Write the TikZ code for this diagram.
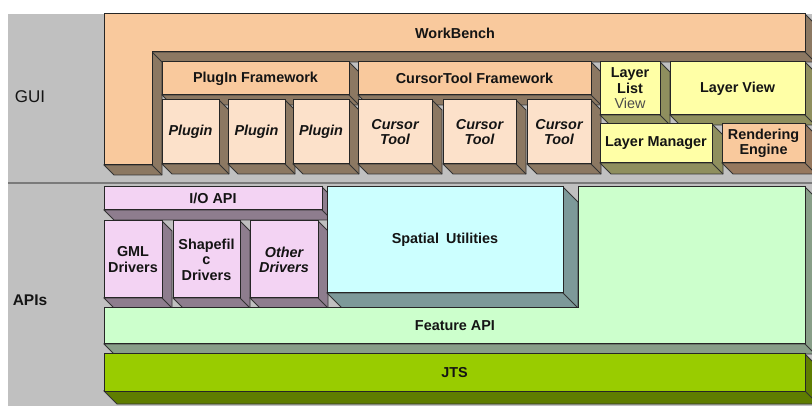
\documentclass[tikz,border=0pt]{standalone}
\usepackage{fontspec}
\setmainfont{Liberation Sans}
\usetikzlibrary{calc}
\pgfdeclarelayer{back}
\pgfdeclarelayer{bg}
\pgfsetlayers{back,bg,main}
\definecolor{bggray}{HTML}{C0C0C0}
\definecolor{divline}{HTML}{7A7A7A}
\definecolor{peach}{HTML}{F9C99D}
\definecolor{lpeach}{HTML}{FCE1CA}
\definecolor{brownside}{HTML}{8C7862}
\definecolor{lyellow}{HTML}{FFFFA6}
\definecolor{oliveside}{HTML}{8F8F5E}
\definecolor{rendside}{HTML}{96785E}
\definecolor{lpink}{HTML}{F3D3F3}
\definecolor{pinkside}{HTML}{8E7D8E}
\definecolor{lcyan}{HTML}{CCFFFF}
\definecolor{cyanside}{HTML}{7D9999}
\definecolor{lgreen}{HTML}{CCFFCC}
\definecolor{greenside}{HTML}{889E88}
\definecolor{jtsgreen}{HTML}{99CC00}
\definecolor{jtsside}{HTML}{5F7D00}
\definecolor{ink}{HTML}{141414}
\tikzset{
  bord/.style={draw=black!85, line width=1pt, line join=miter},
  face/.style={bord, inner sep=0pt, outer sep=0pt, anchor=north west, align=center, text=ink, font=\bfseries\fontsize{14.4}{15.5}\selectfont},
  it/.style={font=\bfseries\itshape\fontsize{14.4}{15}\selectfont},
  rim/.style={draw=black!80, line width=0.8pt, line join=miter},
  txt/.style={text=ink, inner sep=0pt},
}
\newcommand\boxat[6]{\node[face,#6,minimum width={#4-#2},minimum height={#5-#3}] (#1) at (#2,#3)}
\newcommand\extr[3]{%
  \begin{pgfonlayer}{bg}
  \filldraw[rim, fill=#2] (#1.north east) -- ($(#1.north east)+(#3,#3)$) -- ($(#1.south east)+(#3,#3)$) -- ($(#1.south west)+(#3,#3)$) -- (#1.south west) -- (#1.south east) -- cycle;
  \draw[rim] (#1.south east) -- ($(#1.south east)+(#3,#3)$);
  \end{pgfonlayer}}
\begin{document}
\begin{tikzpicture}[x=1pt,y=-1pt]
\useasboundingbox (0,0) rectangle (812,406);
\begin{pgfonlayer}{back}
\fill[white] (0,0) rectangle (812,406);
\fill[bggray] (8,14) rectangle (812,406);
\draw[divline, line width=1.5pt] (8,183) -- (812,183);
\end{pgfonlayer}
% layer labels
\node[txt, font=\fontsize{17}{17}\selectfont] (gui) at (30,97) {GUI};
\node[txt, font=\bfseries\fontsize{15.5}{16}\selectfont] (apis) at (30,300) {APIs};
% WorkBench (L shape)
\draw[bord, fill=peach] (104,14) -- (805,14) -- (805,52) -- (152,52) -- (152,165) -- (104,165) -- cycle;
\begin{pgfonlayer}{bg}
\filldraw[rim, fill=brownside] (805,14) -- (815,24) -- (815,62) -- (162,62) -- (162,175) -- (114,175) -- (104,165) -- (152,165) -- (152,52) -- (805,52) -- cycle;
\draw[rim] (805,52) -- (815,62) (152,52) -- (162,62) (152,165) -- (162,175);
\end{pgfonlayer}
\node[txt, font=\bfseries\fontsize{14.4}{15}\selectfont] (wb) at (455,33) {WorkBench};
% GUI boxes
\boxat{pf}{162}{62}{349}{95}{fill=peach}{PlugIn Framework};
\boxat{pg1}{162}{100}{219}{164}{fill=lpeach,it}{Plugin};
\boxat{pg2}{228}{100}{285}{164}{fill=lpeach,it}{Plugin};
\boxat{pg3}{293}{100}{349}{164}{fill=lpeach,it}{Plugin};
\boxat{cf}{358}{62}{591}{95}{fill=peach}{CursorTool Framework};
\boxat{ct1}{358}{100}{432}{164}{fill=lpeach,it}{Cursor\\Tool};
\boxat{ct2}{443}{100}{516}{164}{fill=lpeach,it}{Cursor\\Tool};
\boxat{ct3}{527}{100}{591}{164}{fill=lpeach,it}{Cursor\\Tool};
\boxat{llv}{600}{62}{660}{115}{fill=lyellow}{Layer\\List\\{\mdseries\color{black!70}View}};
\boxat{lv}{670}{62}{805}{115}{fill=lyellow}{Layer View};
\boxat{lm}{600}{124}{712}{163}{fill=lyellow}{Layer Manager};
\boxat{re}{722}{124}{805}{163}{fill=peach}{Rendering\\Engine};
\extr{pf}{brownside}{10}
\extr{pg1}{brownside}{10}
\extr{pg2}{brownside}{10}
\extr{pg3}{brownside}{10}
\extr{cf}{brownside}{10}
\extr{ct1}{brownside}{10}
\extr{ct2}{brownside}{10}
\extr{ct3}{brownside}{10}
\extr{llv}{oliveside}{10}
\extr{lv}{oliveside}{10}
\extr{lm}{oliveside}{11}
\extr{re}{rendside}{11}
% API boxes
\boxat{io}{104}{187}{322}{210}{fill=lpink}{I/O API};
\boxat{gml}{104}{221}{162}{298}{fill=lpink}{GML\\Drivers};
\boxat{shp}{173}{221}{240}{298}{fill=lpink}{Shapefil\\c\\Drivers};
\boxat{oth}{250}{221}{318}{298}{fill=lpink,it}{Other\\Drivers};
\boxat{su}{327}{187}{563}{293}{fill=lcyan}{Spatial\enspace Utilities};
\extr{io}{pinkside}{10}
\extr{gml}{pinkside}{10}
\extr{shp}{pinkside}{10}
\extr{oth}{pinkside}{10}
\extr{su}{cyanside}{15}
% Feature API (L shape)
\draw[bord, fill=lgreen] (104,308) -- (578,308) -- (578,187) -- (805,187) -- (805,344) -- (104,344) -- cycle;
\begin{pgfonlayer}{bg}
\filldraw[rim, fill=greenside] (805,187) -- (815,197) -- (815,354) -- (114,354) -- (104,344) -- (805,344) -- cycle;
\draw[rim] (805,344) -- (815,354);
\end{pgfonlayer}
\node[txt, font=\bfseries\fontsize{14.4}{15}\selectfont] (fa) at (455,326) {Feature API};
% JTS
\boxat{jts}{104}{354}{805}{391}{fill=jtsgreen}{JTS};
\extr{jts}{jtsside}{13}
\end{tikzpicture}
\end{document}
